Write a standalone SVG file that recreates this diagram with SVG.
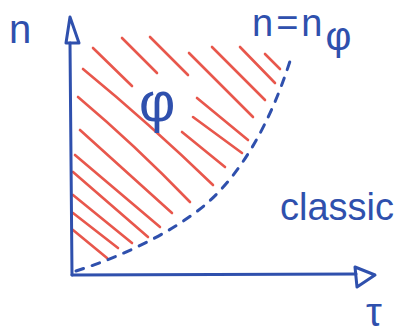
<svg xmlns="http://www.w3.org/2000/svg" width="403" height="336" viewBox="0 0 403 336">
<style>
.ax{fill:none;stroke:#2f50ad;stroke-width:3;stroke-linecap:round;stroke-linejoin:round}
.h{fill:none;stroke:#e8574c;stroke-width:2.6;stroke-linecap:round}
.dash{fill:none;stroke:#2f50ad;stroke-width:3;stroke-linecap:round;stroke-dasharray:8 9}
.t{fill:#2f50ad;font-family:"Liberation Sans",Arial,sans-serif}
</style>
<rect width="403" height="336" fill="#ffffff"/>
<g id="hatch">
<path class="h" d="M93 48 L132 86"/>
<path class="h" d="M122 38 L157 73"/>
<path class="h" d="M150 37 L188 75"/>
<path class="h" d="M189 53 L253 117"/>
<path class="h" d="M212 47 L265 100"/>
<path class="h" d="M240 47 L275 83"/>
<path class="h" d="M265 54 L280 69"/>
<path class="h" d="M83 69 Q150 124 213 185"/>
<path class="h" d="M78 97 Q135 145 190 202"/>
<path class="h" d="M80 130 L172 213"/>
<path class="h" d="M75 155 L160 227"/>
<path class="h" d="M73 172 L148 237"/>
<path class="h" d="M73 195 L132 243"/>
<path class="h" d="M73 213 L118 248"/>
<path class="h" d="M73 230 L107 258"/>
<path class="h" d="M197 98 L248 140"/>
<path class="h" d="M193 117 L242 153"/>
<path class="h" d="M182 132 L225 167"/>
</g>
<g id="boundary">
<path class="dash" d="M76 271 C120 257 170 234 205 205 C240 175 270 125 291 58"/>
</g>
<g id="axes">
<path class="ax" d="M72 275 L70 43"/>
<path class="ax" d="M70 17 L66 43 L79 43 Z"/>
<path class="ax" d="M72 275 L356 274"/>
<path class="ax" d="M375 275 L355 267 L357 287 Z"/>
</g>
<g id="labels">
<text class="t" x="9" y="43" font-size="40">n</text>
<text class="t" x="252" y="36" font-size="38" letter-spacing="3">n=n<tspan font-size="40" letter-spacing="0" dy="14">φ</tspan></text>
<text class="t" x="139" y="121" font-size="56">φ</text>
<text class="t" x="280" y="220" font-size="38">classic</text>
<text class="t" x="366" y="326" font-size="40">τ</text>
</g>
</svg>
